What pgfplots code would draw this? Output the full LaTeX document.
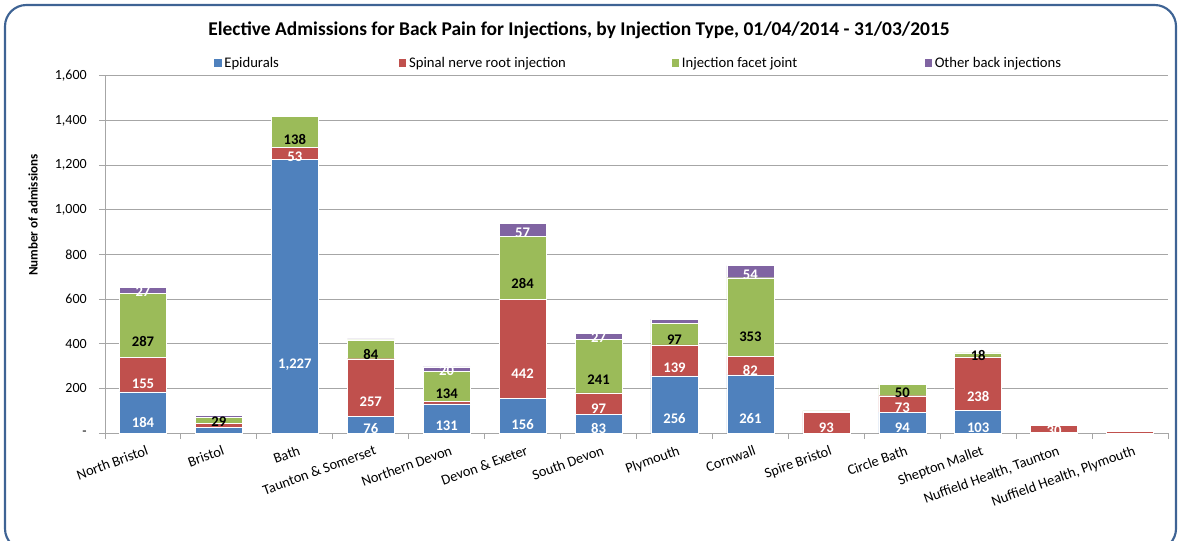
\documentclass[border=0pt]{standalone}
\usepackage{pgfplots}
\pgfplotsset{compat=1.18}
\usepackage{pgfplotstable}
\usepackage{fontspec}
\setmainfont{Carlito}
\definecolor{cE}{HTML}{4F81BD}
\definecolor{cS}{HTML}{C0504D}
\definecolor{cF}{HTML}{9BBB59}
\definecolor{cO}{HTML}{8064A2}
\definecolor{frm}{HTML}{3E6394}
\definecolor{gridc}{HTML}{A6A6A6}

\pgfplotstableread[col sep=semicolon,row sep=\\]{
x;v;lab\\
0;184;184\\
1;26;{}\\
2;1227;{1,227}\\
3;76;76\\
4;131;131\\
5;156;156\\
6;83;83\\
7;256;256\\
8;261;261\\
9;0;{}\\
10;94;94\\
11;103;103\\
12;3;{}\\
13;0;{}\\
}\tabE
\pgfplotstableread[col sep=semicolon,row sep=\\]{
x;v;lab\\
0;155;155\\
1;16;{}\\
2;53;53\\
3;257;257\\
4;11;{}\\
5;442;442\\
6;97;97\\
7;139;139\\
8;82;82\\
9;93;93\\
10;73;73\\
11;238;238\\
12;30;30\\
13;7;{}\\
}\tabS
\pgfplotstableread[col sep=semicolon,row sep=\\]{
x;v;lab\\
0;287;287\\
1;29;29\\
2;138;138\\
3;84;84\\
4;134;134\\
5;284;284\\
6;241;241\\
7;97;97\\
8;353;353\\
9;6;{}\\
10;50;50\\
11;18;18\\
12;6;{}\\
13;0;{}\\
}\tabF
\pgfplotstableread[col sep=semicolon,row sep=\\]{
x;v;lab\\
0;27;27\\
1;8;{}\\
2;6;{}\\
3;5;{}\\
4;20;20\\
5;57;57\\
6;27;27\\
7;18;{}\\
8;54;54\\
9;0;{}\\
10;0;{}\\
11;3;{}\\
12;0;{}\\
13;0;{}\\
}\tabO

\begin{document}
\begin{tikzpicture}[x=0.75pt,y=0.75pt]
\useasboundingbox (0,0) rectangle (1181,540);
\begin{scope}
\clip (0,0) rectangle (1181,540);
\draw[frm, line width=1.6pt, rounded corners=16pt] (5,-10) rectangle (1176,535);
\end{scope}
\node[font=\fontsize{14.6}{16}\selectfont\bfseries] at (579,510) {Elective Admissions for Back Pain for Injections, by Injection Type, 01/04/2014 - 31/03/2015};
\node[font=\fontsize{9.8}{12}\selectfont\bfseries, rotate=90] at (33,325) {Number of admissions};
\begin{axis}[
  at={(78.75pt,80.25pt)}, anchor=south west,
  scale only axis, width=797.25pt, height=267.75pt,
  ybar stacked, bar width=35.25pt,
  xmin=-0.5, xmax=13.5, ymin=0, ymax=1600,
  axis lines*=left,
  axis line style={draw=gridc, line width=0.75pt},
  ymajorgrids, grid style={draw=gridc, line width=0.75pt},
  tick align=outside, major tick length=4.5pt,
  tick style={draw=gridc, line width=0.75pt},
  ytick={0,200,...,1600},
  yticklabels={{-\hspace{5pt}},200,400,600,800,{1,000},{1,200},{1,400},{1,600}},
  yticklabel style={font=\fontsize{10.5}{12}\selectfont, inner sep=0pt, xshift=-9pt},
  xtick={-0.5,0.5,...,13.5}, xticklabels={},
  extra x ticks={0,...,13},
  extra x tick labels={North Bristol,Bristol,Bath,Taunton \& Somerset,Northern Devon,Devon \& Exeter,South Devon,Plymouth,Cornwall,Spire Bristol,Circle Bath,Shepton Mallet,{Nuffield Health, Taunton},{Nuffield Health, Plymouth}},
  extra x tick style={major tick length=0pt, grid=none,
    xticklabel style={font=\fontsize{10.8}{12}\selectfont, rotate=20, anchor=north east, inner sep=0pt, yshift=-9pt, xshift=-1pt}},
  legend style={at={(0.1025,1.036)}, anchor=west, draw=none, fill=none, inner sep=0pt,
    font=\fontsize{11}{12}\selectfont, legend columns=4,
    /tikz/every even column/.append style={column sep=2pt}},
  legend image code/.code={\fill[#1,draw=none] (0pt,-2.8pt) rectangle (5.6pt,2.8pt);},
  point meta=explicit symbolic,
  nodes near coords={\pgfplotspointmeta},
  visualization depends on={\thisrow{v} \as \rawy},
  every node near coord/.append style={anchor=center, font=\fontsize{11}{12}\selectfont\bfseries,
    shift={(axis direction cs:0,-\rawy/4)}},
]
\addplot[fill=cE, draw=white, line width=0.3pt, nodes near coords style={text=white}] table[x=x,y=v,meta=lab] {\tabE};
\addlegendentry{\makebox[127pt][l]{Epidurals}}
\addplot[fill=cS, draw=white, line width=0.3pt, nodes near coords style={text=white}] table[x=x,y=v,meta=lab] {\tabS};
\addlegendentry{\makebox[193pt][l]{Spinal nerve root injection}}
\addplot[fill=cF, draw=white, line width=0.3pt, nodes near coords style={text=black}] table[x=x,y=v,meta=lab] {\tabF};
\addlegendentry{\makebox[178pt][l]{Injection facet joint}}
\addplot[fill=cO, draw=white, line width=0.3pt, nodes near coords style={text=white}] table[x=x,y=v,meta=lab] {\tabO};
\addlegendentry{Other back injections}
\end{axis}
\end{tikzpicture}
\end{document}
